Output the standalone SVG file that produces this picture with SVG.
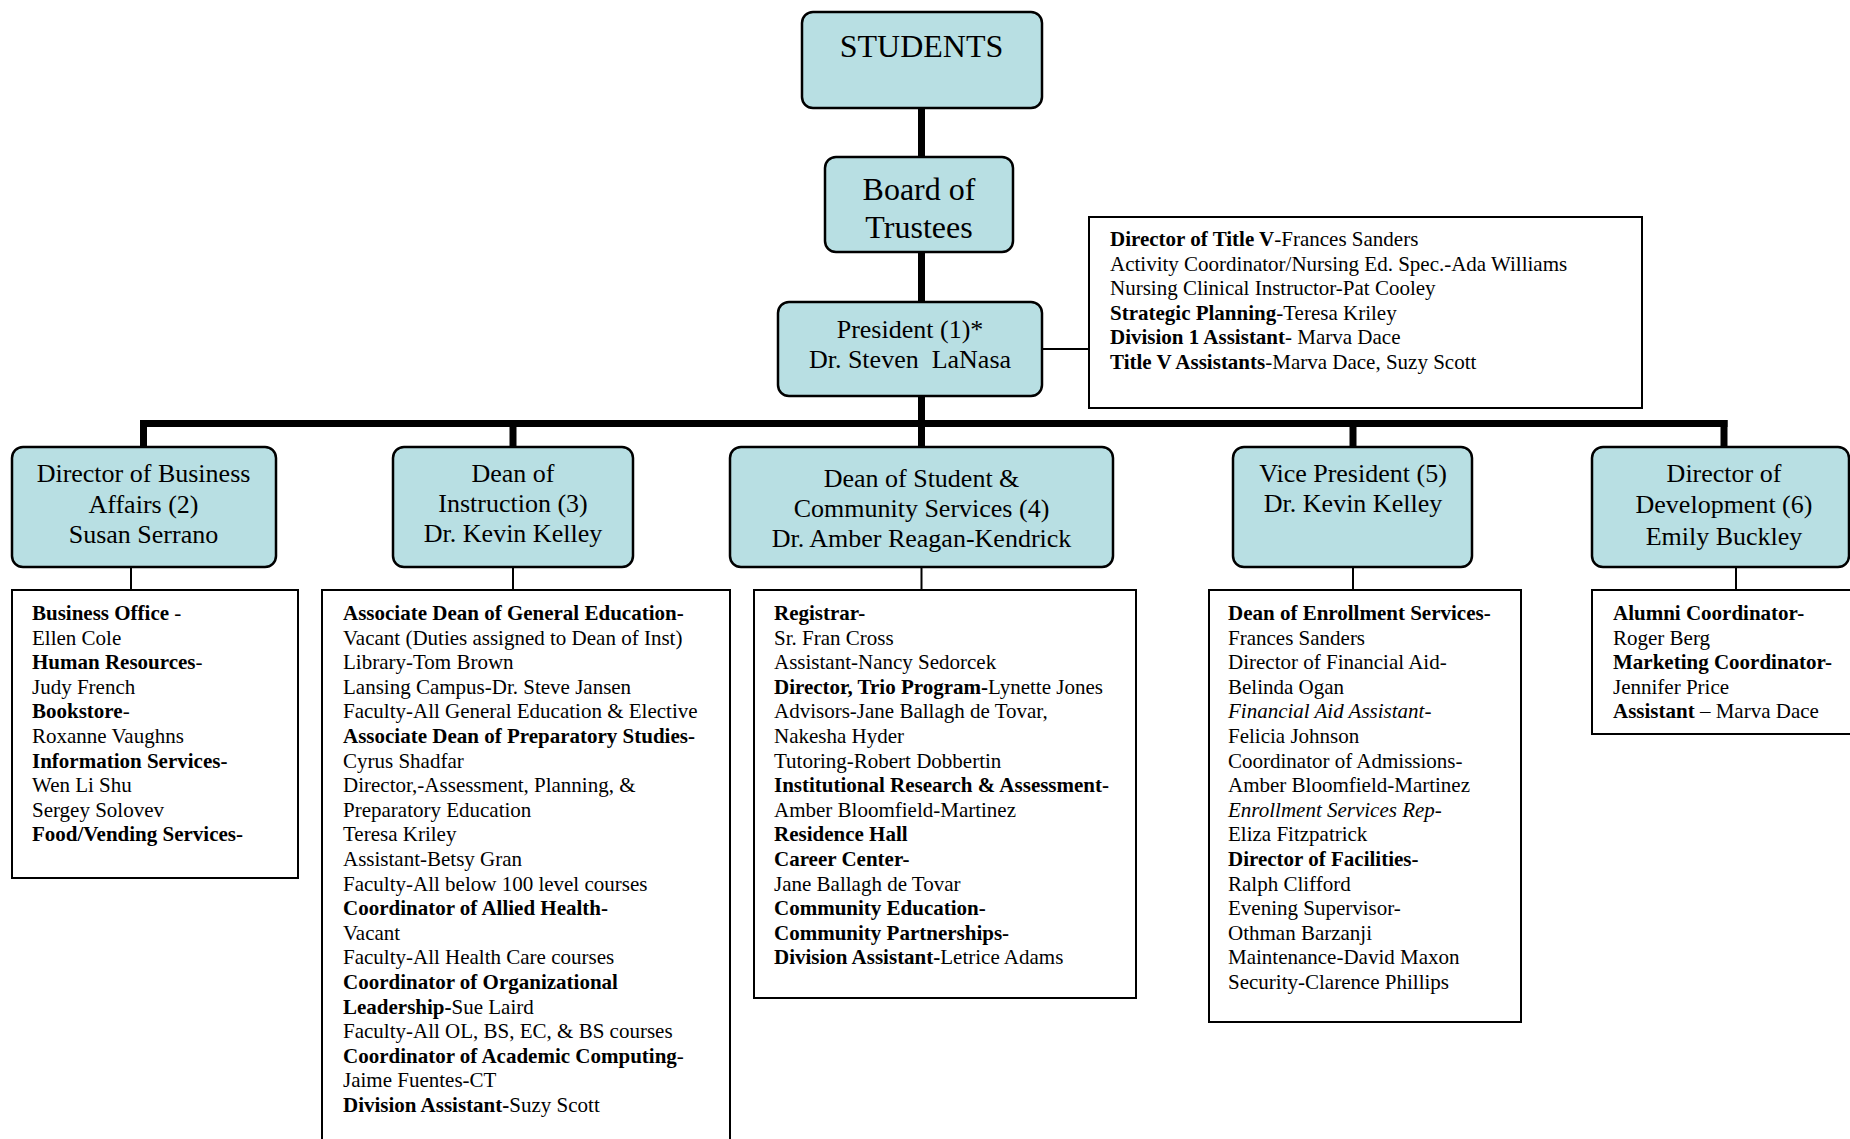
<svg xmlns="http://www.w3.org/2000/svg" width="1850" height="1139" viewBox="0 0 1850 1139">
<style>
  text { font-family: "Liberation Serif", "Times New Roman", serif; fill: #000; }
  .box { fill: #b8dfe3; stroke: #000; stroke-width: 2.5; }
  .detail { fill: #fff; stroke: #000; stroke-width: 2; }
  .thick { stroke: #000; stroke-width: 7; fill: none; }
  .thin { stroke: #000; stroke-width: 2; fill: none; }
  .t32 { font-size: 32px; text-anchor: middle; }
  .t26 { font-size: 26px; text-anchor: middle; }
  .d { font-size: 21px; }
  .b { font-weight: bold; }
  .i { font-style: italic; }
</style>
<rect width="1850" height="1139" fill="#fff"/>

<g id="connectors">
  <line class="thick" x1="921.5" y1="108" x2="921.5" y2="158"/>
  <line class="thick" x1="921.5" y1="252" x2="921.5" y2="302"/>
  <line class="thick" x1="921.5" y1="396" x2="921.5" y2="447"/>
  <line class="thin" x1="1042" y1="349" x2="1089" y2="349"/>
  <line class="thick" x1="140" y1="423.5" x2="1727.5" y2="423.5"/>
  <line class="thick" x1="143.5" y1="420" x2="143.5" y2="447"/>
  <line class="thick" x1="513" y1="420" x2="513" y2="447"/>
  <line class="thick" x1="1353" y1="420" x2="1353" y2="447"/>
  <line class="thick" x1="1724" y1="420" x2="1724" y2="447"/>
  <line class="thin" x1="131" y1="567" x2="131" y2="590"/>
  <line class="thin" x1="513" y1="567" x2="513" y2="590"/>
  <line class="thin" x1="921.5" y1="567" x2="921.5" y2="590"/>
  <line class="thin" x1="1353" y1="567" x2="1353" y2="590"/>
  <line class="thin" x1="1736" y1="567" x2="1736" y2="590"/>
</g>

<g id="students">
  <rect class="box" x="802" y="12" width="240" height="96" rx="11"/>
  <text class="t32" x="921.5" y="57">STUDENTS</text>
</g>

<g id="board">
  <rect class="box" x="825" y="157" width="188" height="95" rx="11"/>
  <text class="t32" x="919" y="200">Board of</text>
  <text class="t32" x="919" y="238">Trustees</text>
</g>

<g id="president">
  <rect class="box" x="778" y="302" width="264" height="94" rx="11"/>
  <text class="t26" x="910" y="337.5">President (1)*</text>
  <text class="t26" x="910" y="368" xml:space="preserve">Dr. Steven  LaNasa</text>
</g>

<g id="title-v">
  <rect class="detail" x="1089" y="217" width="553" height="191"/>
  <text class="d" x="1110" y="246"><tspan class="b">Director of Title V</tspan>-Frances Sanders</text>
  <text class="d" x="1110" y="270.6">Activity Coordinator/Nursing Ed. Spec.-Ada Williams</text>
  <text class="d" x="1110" y="295.2">Nursing Clinical Instructor-Pat Cooley</text>
  <text class="d" x="1110" y="319.8"><tspan class="b">Strategic Planning</tspan>-Teresa Kriley</text>
  <text class="d" x="1110" y="344.4"><tspan class="b">Division 1 Assistant</tspan>- Marva Dace</text>
  <text class="d" x="1110" y="369"><tspan class="b">Title V Assistants</tspan>-Marva Dace, Suzy Scott</text>
</g>

<g id="business-affairs">
  <rect class="box" x="12" y="447" width="264" height="120" rx="11"/>
  <text class="t26" x="143.5" y="482">Director of Business</text>
  <text class="t26" x="143.5" y="512.5">Affairs (2)</text>
  <text class="t26" x="143.5" y="543">Susan Serrano</text>
</g>

<g id="dean-instruction">
  <rect class="box" x="393" y="447" width="240" height="120" rx="11"/>
  <text class="t26" x="513" y="482">Dean of</text>
  <text class="t26" x="513" y="512">Instruction (3)</text>
  <text class="t26" x="513" y="541.5">Dr. Kevin Kelley</text>
</g>

<g id="dean-student">
  <rect class="box" x="730" y="447" width="383" height="120" rx="11"/>
  <text class="t26" x="921.5" y="487">Dean of Student &amp;</text>
  <text class="t26" x="921.5" y="517">Community Services (4)</text>
  <text class="t26" x="921.5" y="547">Dr. Amber Reagan-Kendrick</text>
</g>

<g id="vice-president">
  <rect class="box" x="1233" y="447" width="239" height="120" rx="11"/>
  <text class="t26" x="1353" y="481.5">Vice President (5)</text>
  <text class="t26" x="1353" y="512">Dr. Kevin Kelley</text>
</g>

<g id="director-development">
  <rect class="box" x="1592" y="447" width="257" height="120" rx="11"/>
  <text class="t26" x="1724" y="482">Director of</text>
  <text class="t26" x="1724" y="513">Development (6)</text>
  <text class="t26" x="1724" y="544.5">Emily Buckley</text>
</g>

<g id="business-detail">
  <rect class="detail" x="12" y="590" width="286" height="288"/>
  <text class="d" x="32" y="620"><tspan class="b">Business Office</tspan> -</text>
  <text class="d" x="32" y="644.6">Ellen Cole</text>
  <text class="d" x="32" y="669.2"><tspan class="b">Human Resources</tspan>-</text>
  <text class="d" x="32" y="693.8">Judy French</text>
  <text class="d" x="32" y="718.4"><tspan class="b">Bookstore</tspan>-</text>
  <text class="d" x="32" y="743">Roxanne Vaughns</text>
  <text class="d b" x="32" y="767.6">Information Services-</text>
  <text class="d" x="32" y="792.2">Wen Li Shu</text>
  <text class="d" x="32" y="816.8">Sergey Solovev</text>
  <text class="d b" x="32" y="841.4">Food/Vending Services-</text>
</g>

<g id="instruction-detail">
  <rect class="detail" x="322" y="590" width="408" height="570"/>
  <text class="d b" x="343" y="620">Associate Dean of General Education-</text>
  <text class="d" x="343" y="644.6">Vacant (Duties assigned to Dean of Inst)</text>
  <text class="d" x="343" y="669.2">Library-Tom Brown</text>
  <text class="d" x="343" y="693.8">Lansing Campus-Dr. Steve Jansen</text>
  <text class="d" x="343" y="718.4">Faculty-All General Education &amp; Elective</text>
  <text class="d b" x="343" y="743">Associate Dean of Preparatory Studies-</text>
  <text class="d" x="343" y="767.6">Cyrus Shadfar</text>
  <text class="d" x="343" y="792.2">Director,-Assessment, Planning, &amp;</text>
  <text class="d" x="343" y="816.8">Preparatory Education</text>
  <text class="d" x="343" y="841.4">Teresa Kriley</text>
  <text class="d" x="343" y="866">Assistant-Betsy Gran</text>
  <text class="d" x="343" y="890.6">Faculty-All below 100 level courses</text>
  <text class="d b" x="343" y="915.2">Coordinator of Allied Health-</text>
  <text class="d" x="343" y="939.8">Vacant</text>
  <text class="d" x="343" y="964.4">Faculty-All Health Care courses</text>
  <text class="d b" x="343" y="989">Coordinator of Organizational</text>
  <text class="d" x="343" y="1013.6"><tspan class="b">Leadership-</tspan>Sue Laird</text>
  <text class="d" x="343" y="1038.2">Faculty-All OL, BS, EC, &amp; BS courses</text>
  <text class="d" x="343" y="1062.8"><tspan class="b">Coordinator of Academic Computing</tspan>-</text>
  <text class="d" x="343" y="1087.4">Jaime Fuentes-CT</text>
  <text class="d" x="343" y="1112"><tspan class="b">Division Assistant-</tspan>Suzy Scott</text>
</g>

<g id="student-detail">
  <rect class="detail" x="754" y="590" width="382" height="408"/>
  <text class="d b" x="774" y="620">Registrar-</text>
  <text class="d" x="774" y="644.6">Sr. Fran Cross</text>
  <text class="d" x="774" y="669.2">Assistant-Nancy Sedorcek</text>
  <text class="d" x="774" y="693.8"><tspan class="b">Director, Trio Program-</tspan>Lynette Jones</text>
  <text class="d" x="774" y="718.4">Advisors-Jane Ballagh de Tovar,</text>
  <text class="d" x="774" y="743">Nakesha Hyder</text>
  <text class="d" x="774" y="767.6">Tutoring-Robert Dobbertin</text>
  <text class="d b" x="774" y="792.2">Institutional Research &amp; Assessment-</text>
  <text class="d" x="774" y="816.8">Amber Bloomfield-Martinez</text>
  <text class="d b" x="774" y="841.4">Residence Hall</text>
  <text class="d b" x="774" y="866">Career Center-</text>
  <text class="d" x="774" y="890.6">Jane Ballagh de Tovar</text>
  <text class="d b" x="774" y="915.2">Community Education-</text>
  <text class="d b" x="774" y="939.8">Community Partnerships-</text>
  <text class="d" x="774" y="964.4"><tspan class="b">Division Assistant-</tspan>Letrice Adams</text>
</g>

<g id="vp-detail">
  <rect class="detail" x="1209" y="590" width="312" height="432"/>
  <text class="d b" x="1228" y="620">Dean of Enrollment Services-</text>
  <text class="d" x="1228" y="644.6">Frances Sanders</text>
  <text class="d" x="1228" y="669.2">Director of Financial Aid-</text>
  <text class="d" x="1228" y="693.8">Belinda Ogan</text>
  <text class="d i" x="1228" y="718.4">Financial Aid Assistant-</text>
  <text class="d" x="1228" y="743">Felicia Johnson</text>
  <text class="d" x="1228" y="767.6">Coordinator of Admissions-</text>
  <text class="d" x="1228" y="792.2">Amber Bloomfield-Martinez</text>
  <text class="d i" x="1228" y="816.8">Enrollment Services Rep-</text>
  <text class="d" x="1228" y="841.4">Eliza Fitzpatrick</text>
  <text class="d b" x="1228" y="866">Director of Facilities-</text>
  <text class="d" x="1228" y="890.6">Ralph Clifford</text>
  <text class="d" x="1228" y="915.2">Evening Supervisor-</text>
  <text class="d" x="1228" y="939.8">Othman Barzanji</text>
  <text class="d" x="1228" y="964.4">Maintenance-David Maxon</text>
  <text class="d" x="1228" y="989">Security-Clarence Phillips</text>
</g>

<g id="development-detail">
  <rect class="detail" x="1592" y="590" width="270" height="144"/>
  <text class="d b" x="1613" y="620">Alumni Coordinator-</text>
  <text class="d" x="1613" y="644.6">Roger Berg</text>
  <text class="d b" x="1613" y="669.2">Marketing Coordinator-</text>
  <text class="d" x="1613" y="693.8">Jennifer Price</text>
  <text class="d" x="1613" y="718.4"><tspan class="b">Assistant</tspan> – Marva Dace</text>
</g>
</svg>
